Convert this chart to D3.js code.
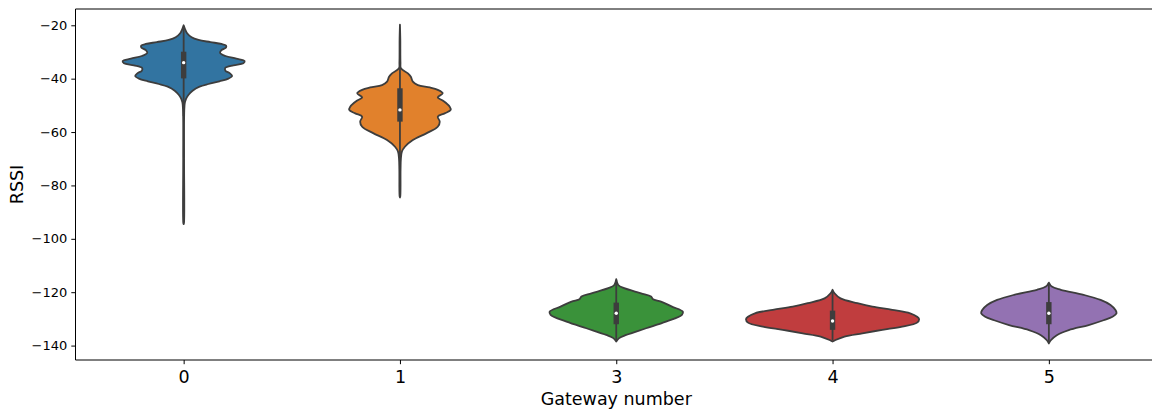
<!DOCTYPE html>
<html>
<head>
<meta charset="utf-8">
<script src="https://cdn.jsdelivr.net/npm/d3@7/dist/d3.min.js"></script>
<style>
  html, body { margin: 0; padding: 0; background: #ffffff; }
  svg { display: block; font-family: "DejaVu Sans", sans-serif; }
</style>
</head>
<body>
<svg id="chart" width="1152" height="412"></svg>
<script>
// Gateways shown on the x axis
const gateways = ["0", "1", "3", "4", "5"];
const colors = ["#3274a1", "#e1812c", "#3a923a", "#c03d3e", "#9372b2"];
const yTicks = [-20, -40, -60, -80, -100, -120, -140];

// Kernel density profiles: [RSSI, relative density] (widest peak = 1)
const gw0Density = [[-20,0],[-21.5,0.017],[-23,0.04],[-24.5,0.092],[-25.5,0.172],[-26.3,0.31],[-27,0.437],[-27.6,0.49],[-28.3,0.49],[-29.3,0.437],[-30.3,0.42],[-31.5,0.483],[-32.5,0.609],[-33.4,0.705],[-34.2,0.69],[-35,0.575],[-36,0.48],[-37,0.483],[-38,0.535],[-39,0.56],[-40,0.517],[-41,0.414],[-42,0.287],[-43,0.184],[-44.5,0.103],[-46,0.057],[-47.5,0.029],[-49,0.014],[-52,0.007],[-70,0.005],[-94,0.004],[-94.5,0]];
const gw1Density = [[-19.8,0],[-25,0.004],[-34,0.006],[-36.1,0.011],[-38,0.092],[-39.3,0.126],[-41.1,0.149],[-42.4,0.207],[-43.3,0.345],[-44.2,0.437],[-45.5,0.494],[-47,0.437],[-48.2,0.494],[-50.5,0.575],[-51.7,0.586],[-53,0.517],[-54.2,0.437],[-56.1,0.46],[-58,0.437],[-60.4,0.31],[-63,0.149],[-65.5,0.057],[-67.3,0.023],[-70,0.011],[-74,0.007],[-84,0.004],[-84.5,0]];
const gw3Density = [[-115.1,0],[-117.3,0.023],[-118.5,0.092],[-120.4,0.287],[-121.6,0.402],[-122.6,0.425],[-123.5,0.517],[-125.4,0.644],[-127.3,0.77],[-128.5,0.759],[-131,0.575],[-133.5,0.345],[-136,0.115],[-137.2,0.034],[-138.5,0]];
const gw4Density = [[-119.1,0],[-120.4,0.023],[-122.3,0.092],[-124.1,0.287],[-125.4,0.46],[-126.6,0.69],[-127.9,0.897],[-129.2,0.977],[-130.1,1.0],[-131.4,0.977],[-132.9,0.805],[-134.1,0.575],[-135.4,0.345],[-136.6,0.138],[-137.9,0.034],[-138.5,0]];
const gw5Density = [[-116.4,0],[-117.9,0.034],[-119.1,0.138],[-121,0.402],[-122.9,0.598],[-124.8,0.713],[-126.7,0.77],[-127.9,0.782],[-129.2,0.736],[-130.5,0.632],[-132.3,0.46],[-134.2,0.23],[-136.1,0.092],[-138,0.023],[-139.2,0]];
const densities = [gw0Density, gw1Density, gw3Density, gw4Density, gw5Density];

// Box summaries per gateway
const q1 = [-39.9, -56.1, -132.0, -134.1, -132.0];
const median = [-34.0, -51.7, -127.9, -130.8, -127.9];
const q3 = [-29.9, -43.6, -123.9, -126.9, -123.7];
const whiskerLow = [-54.0, -73.0, -138.0, -138.0, -139.0];
const whiskerHigh = [-20.5, -25.0, -115.5, -119.5, -116.8];

const svg = d3.select("#chart");
const margin = { left: 75.5, top: 9, bottom: 360, right: 1157 };
const edge = "#3d3d3d";

const x = d3.scalePoint().domain(gateways).range([margin.left, margin.right]).padding(0.5);
const step = x.step();
const y = d3.scaleLinear().domain([-145.4, -13.9]).range([margin.bottom, margin.top]);
const w = d3.scaleLinear().domain([0, 1]).range([0, step * 0.4]);

// Violins
const plot = svg.append("g");
gateways.forEach((g, i) => {
  const cx = x(g);
  const area = d3.area()
    .y(d => y(d[0]))
    .x0(d => cx - w(d[1]))
    .x1(d => cx + w(d[1]))
    .curve(d3.curveCatmullRom.alpha(0.5));
  plot.append("path")
    .datum(densities[i])
    .attr("d", area)
    .attr("fill", colors[i])
    .attr("stroke", edge)
    .attr("stroke-width", 1.8)
    .attr("stroke-linejoin", "round");
  // whisker
  plot.append("line")
    .attr("x1", cx).attr("x2", cx)
    .attr("y1", y(whiskerLow[i])).attr("y2", y(whiskerHigh[i]))
    .attr("stroke", edge).attr("stroke-width", 1.8);
  // interquartile box
  plot.append("line")
    .attr("x1", cx).attr("x2", cx)
    .attr("y1", y(q1[i])).attr("y2", y(q3[i]))
    .attr("stroke", edge).attr("stroke-width", 5.4);
  // median
  plot.append("circle")
    .attr("cx", cx).attr("cy", y(median[i]))
    .attr("r", 1.7)
    .attr("fill", "#ffffff");
});

// Axes
const yAxis = d3.axisLeft(y).tickValues(yTicks).tickSize(4.2).tickPadding(4)
  .tickFormat(d => d3.format("d")(d).replace("-", "\u2212"));
const gy = svg.append("g").attr("transform", `translate(${margin.left},0)`).call(yAxis);
gy.select(".domain").remove();
gy.selectAll(".tick line").attr("stroke", "#000").attr("stroke-width", 1);
gy.selectAll(".tick text").attr("font-size", 13).attr("font-family", "DejaVu Sans").attr("fill", "#000");

const xAxis = d3.axisBottom(x).tickSize(4.2).tickPadding(6);
const gx = svg.append("g").attr("transform", `translate(0,${margin.bottom})`).call(xAxis);
gx.select(".domain").remove();
gx.selectAll(".tick line").attr("stroke", "#000").attr("stroke-width", 1);
gx.selectAll(".tick text").attr("font-size", 17.5).attr("font-family", "DejaVu Sans").attr("fill", "#000");

// Frame
const frame = svg.append("g").attr("fill", "none").attr("stroke", "#000").attr("stroke-width", 1);
frame.append("line").attr("x1", margin.left).attr("x2", margin.right).attr("y1", margin.top).attr("y2", margin.top);
frame.append("line").attr("x1", margin.left).attr("x2", margin.right).attr("y1", margin.bottom).attr("y2", margin.bottom);
frame.append("line").attr("x1", margin.left).attr("x2", margin.left).attr("y1", margin.top).attr("y2", margin.bottom);
frame.append("line").attr("x1", margin.right).attr("x2", margin.right).attr("y1", margin.top).attr("y2", margin.bottom);

// Axis titles
svg.append("text")
  .attr("x", (margin.left + margin.right) / 2).attr("y", 405)
  .attr("text-anchor", "middle").attr("font-size", 17.5).attr("fill", "#000")
  .text("Gateway number");
svg.append("text")
  .attr("transform", `translate(22.7,${(margin.top + margin.bottom) / 2}) rotate(-90)`)
  .attr("text-anchor", "middle").attr("font-size", 17.5).attr("fill", "#000")
  .text("RSSI");
</script>
</body>
</html>
